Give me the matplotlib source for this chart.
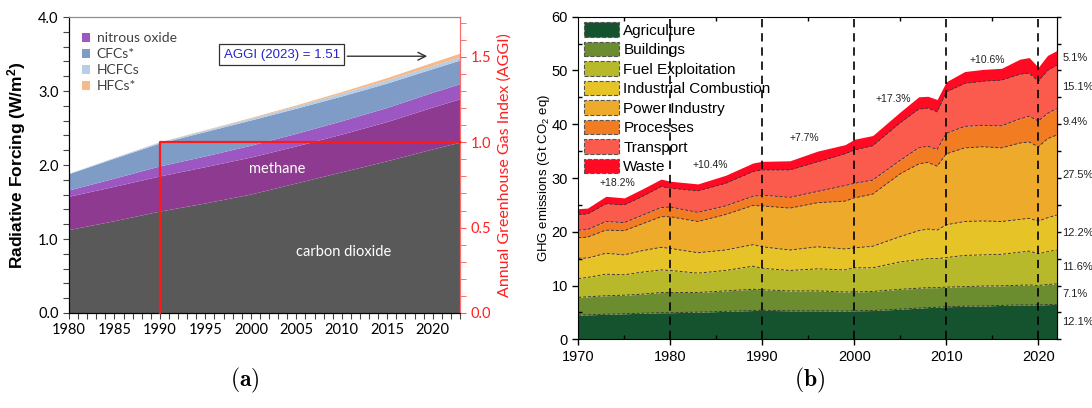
import numpy as np
import matplotlib
matplotlib.use('Agg')
import matplotlib.pyplot as plt
from matplotlib.patches import Patch
from matplotlib.ticker import MultipleLocator, FormatStrFormatter, NullFormatter

plt.rcParams['mathtext.fontset'] = 'cm'

# ---------------- (a) radiative forcing, W/m2 ----------------
aggi_years = [1980, 1985, 1990, 1995, 2000, 2005, 2010, 2015, 2020, 2023]
co2 = [1.12, 1.24, 1.37, 1.48, 1.60, 1.75, 1.90, 2.05, 2.21, 2.30]
ch4 = [0.45, 0.465, 0.475, 0.49, 0.50, 0.50, 0.51, 0.53, 0.565, 0.586]
n2o = [0.085, 0.11, 0.135, 0.145, 0.16, 0.17, 0.18, 0.19, 0.20, 0.204]
cfcs = [0.22, 0.27, 0.31, 0.33, 0.34, 0.34, 0.335, 0.33, 0.32, 0.32]
hcfcs = [0.005, 0.01, 0.015, 0.02, 0.025, 0.03, 0.038, 0.042, 0.043, 0.043]
hfcs = [0.0, 0.001, 0.002, 0.005, 0.01, 0.015, 0.022, 0.032, 0.043, 0.05]
aggi_names = ['carbon dioxide', 'methane', 'nitrous oxide', 'CFCs*', 'HCFCs', 'HFCs*']
aggi_colors = ['#595959', '#8e3a91', '#9d57c2', '#7e9cc5', '#b7cde6', '#f6b987']

# ---------------- (b) GHG emissions by sector, Gt CO2eq ----------------
years = [1970, 1971, 1973, 1975, 1977, 1979, 1980, 1983, 1986, 1989, 1990, 1993, 1996, 1999,
         2000, 2002, 2005, 2007, 2008, 2009, 2010, 2012, 2014, 2016, 2018, 2019, 2020, 2021, 2022]
agriculture = [4.5, 4.55, 4.65, 4.75, 4.85, 4.95, 4.95, 5.05, 5.2, 5.35, 5.4, 5.3, 5.3, 5.25,
               5.3, 5.35, 5.6, 5.8, 5.9, 5.95, 6.05, 6.15, 6.2, 6.3, 6.4, 6.4, 6.4, 6.45, 6.5]
buildings = [3.3, 3.35, 3.45, 3.45, 3.55, 3.75, 3.75, 3.65, 3.8, 3.95, 3.8, 3.7, 3.7, 3.55,
             3.5, 3.55, 3.7, 3.7, 3.7, 3.65, 3.65, 3.65, 3.7, 3.65, 3.65, 3.7, 3.6, 3.75, 3.8]
fuel = [3.5, 3.6, 4.0, 3.8, 4.1, 4.2, 4.1, 3.6, 3.8, 4.3, 4.0, 3.8, 4.1, 4.1,
        4.5, 4.4, 5.1, 5.3, 5.4, 5.4, 5.5, 5.8, 5.8, 5.85, 6.15, 6.3, 5.9, 6.1, 6.3]
industrial = [3.8, 3.6, 3.9, 3.7, 4.0, 4.2, 4.1, 3.8, 3.8, 4.0, 4.0, 3.8, 4.1, 3.9,
              3.7, 4.0, 4.7, 5.4, 5.5, 5.3, 6.1, 6.3, 6.3, 6.1, 6.1, 6.1, 6.1, 6.3, 6.5]
power = [3.8, 3.9, 4.3, 4.5, 5.0, 5.7, 5.9, 5.8, 6.6, 7.3, 7.6, 7.8, 8.2, 8.9,
         9.3, 9.7, 11.7, 12.4, 12.4, 11.9, 13.2, 13.7, 13.8, 13.7, 14.2, 14.2, 13.8, 14.7, 14.9]
processes = [1.4, 1.4, 1.6, 1.5, 1.6, 1.7, 1.8, 1.7, 1.6, 1.7, 2.0, 2.0, 2.1, 2.9,
             2.7, 2.6, 2.5, 3.0, 3.0, 3.1, 3.8, 4.0, 4.0, 4.1, 4.5, 4.8, 4.8, 4.7, 4.9]
transport = [2.9, 2.9, 3.3, 3.3, 3.5, 3.9, 3.5, 4.0, 4.2, 4.6, 4.7, 5.1, 5.5, 5.9,
             6.2, 6.4, 7.0, 7.2, 7.1, 7.0, 7.7, 8.0, 8.2, 8.5, 8.3, 8.0, 7.4, 8.0, 8.1]
waste = [1.1, 1.1, 1.4, 1.3, 1.4, 1.4, 1.3, 1.3, 1.5, 1.6, 1.6, 1.7, 2.0, 1.7,
         2.0, 1.9, 2.0, 2.3, 2.2, 2.3, 1.9, 2.2, 2.2, 2.2, 2.8, 2.9, 2.6, 2.8, 2.7]
sector_names = ['Agriculture', 'Buildings', 'Fuel Exploitation', 'Industrial Combustion',
                'Power Industry', 'Processes', 'Transport', 'Waste']
sector_colors = ['#14532d', '#6b8c2f', '#b8b82b', '#e6c428', '#eeaa2a', '#f27c22', '#fb5b4c', '#ff0a22']
share_2022 = ['12.1%', '7.1%', '11.6%', '12.2%', '27.5%', '9.4%', '15.1%', '5.1%']
decade_growth = ['+18.2%', '+10.4%', '+7.7%', '+17.3%', '+10.6%']
growth_pos = [(1974.2, 29.1), (1984.3, 32.5), (1994.6, 37.5), (2004.2, 44.7), (2014.4, 51.9)]

fig = plt.figure(figsize=(10.92, 4.08), dpi=100)

# ================= panel (a) =================
ax = fig.add_axes([69/1092, 1-313/408, 391/1092, 296/408])
ax.stackplot(aggi_years, co2, ch4, n2o, cfcs, hcfcs, hfcs, colors=aggi_colors, lw=0)
ax.set_xlim(1980, 2023)
ax.set_ylim(0, 4)
ax.xaxis.set_major_locator(MultipleLocator(5))
ax.xaxis.set_minor_locator(MultipleLocator(1))
ax.yaxis.set_major_locator(MultipleLocator(1))
ax.yaxis.set_minor_locator(MultipleLocator(0.2))
ax.yaxis.set_major_formatter(FormatStrFormatter('%.1f'))
ax.tick_params(which='both', direction='out', length=4, width=0.8, color='#444444',
               labelsize=10.5)
for lab in ax.get_xticklabels() + ax.get_yticklabels():
    lab.set_family('Lato')
for s in ['top', 'right']:
    ax.spines[s].set_color('#8c8c8c')
ax.set_ylabel('Radiative Forcing (W/m$\\mathregular{^2}$)', fontsize=12.5, fontweight='bold',
              family='Liberation Sans')
ax.yaxis.set_label_coords(-0.105, 0.5)

total = np.sum([co2, ch4, n2o, cfcs, hcfcs, hfcs], axis=0)
f1990 = total[aggi_years.index(1990)]

ax2 = ax.twinx()
ax2.set_ylim(0, 4 / f1990)
ax2.yaxis.set_major_locator(MultipleLocator(0.5))
ax2.yaxis.set_minor_locator(MultipleLocator(0.1))
ax2.yaxis.set_major_formatter(FormatStrFormatter('%.1f'))
ax2.tick_params(which='both', direction='out', length=4, color='#ff5a5a',
                labelcolor='#ff2020', labelsize=10.5)
for lab in ax2.get_yticklabels():
    lab.set_family('Lato')
ax2.spines['right'].set_color('#ff6a6a')
ax2.spines['top'].set_color('#8c8c8c')
ax2.set_ylabel('Annual Greenhouse Gas Index (AGGI)', color='#ff2020', fontsize=11.5, family='Lato')
ax2.yaxis.set_label_coords(1.095, 0.5)

# 1990 reference box
ax2.plot([1990, 1990, 2023], [0, 1, 1], color='#ff1a1a', lw=1.6, clip_on=False, zorder=3)

ax.text(2002.9, 1.94, 'methane', color='white', fontsize=10.5, family='Lato', ha='center', va='center')
ax.text(2010.2, 0.82, 'carbon dioxide', color='white', fontsize=10.5, family='Lato', ha='center', va='center')
ax.text(2003.4, 3.49, 'AGGI (2023) = 1.51', color='#2424c8', fontsize=9.5, family='Liberation Sans',
        ha='center', va='center', bbox=dict(boxstyle='square,pad=0.35', fc='white', ec='#333333', lw=0.9))
ax.annotate('', xy=(2019.7, 3.47), xytext=(2010.3, 3.47),
            arrowprops=dict(arrowstyle='->', color='#333333', lw=1.0, mutation_scale=14))

handles = [Patch(facecolor=c, edgecolor='none') for c in aggi_colors[2:]]
leg = ax.legend(handles, aggi_names[2:], loc='upper left', bbox_to_anchor=(0.0, 0.99), frameon=False,
                handlelength=0.6, handleheight=0.6, handletextpad=0.5, labelspacing=0.28,
                prop={'family': 'Lato', 'size': 10})
for t in leg.get_texts():
    t.set_color('#404040')

fig.text(245/1092, 1-380/408, r'$\mathbf{(a)}$', fontsize=17, ha='center', va='center')

# ================= panel (b) =================
bx = fig.add_axes([578.3/1092, 1-339.3/408, 478.4/1092, 322.6/408])
layers = [agriculture, buildings, fuel, industrial, power, processes, transport, waste]
tops = np.cumsum(layers, axis=0)
base = np.zeros(len(years))
for i, top in enumerate(tops):
    bx.fill_between(years, base, top, color=sector_colors[i], lw=0)
    if i < len(tops) - 1:
        bx.plot(years, top, ls=(0, (3, 2)), color='#3a3a3a', lw=0.7)
    base = top

for yr in [1980, 1990, 2000, 2010, 2020]:
    bx.axvline(yr, color='black', ls=(0, (5, 3.5)), lw=1.2, zorder=5)

bx.set_xlim(1970, 2022)
bx.set_ylim(0, 60)
bx.xaxis.set_major_locator(MultipleLocator(10))
bx.xaxis.set_minor_locator(MultipleLocator(5))
bx.yaxis.set_major_locator(MultipleLocator(10))
bx.yaxis.set_minor_locator(MultipleLocator(5))
bx.tick_params(which='major', direction='out', length=4, width=1, labelsize=10.5)
bx.tick_params(which='minor', direction='in', length=3, width=1, top=True)
for lab in bx.get_xticklabels() + bx.get_yticklabels():
    lab.set_family('Liberation Sans')
bx.set_ylabel('GHG emissions (Gt CO$\\mathregular{_2}$ eq)', fontsize=9.5, family='Liberation Sans')
bx.yaxis.set_label_coords(-0.055, 0.5)

sec = bx.secondary_yaxis('right')
sec.yaxis.set_major_locator(MultipleLocator(5))
sec.yaxis.set_major_formatter(NullFormatter())
sec.tick_params(direction='out', length=3, width=1)

mids = tops - np.array(layers) / 2
for i, s in enumerate(share_2022):
    bx.text(1.012, mids[i][-1], s, transform=bx.get_yaxis_transform(), fontsize=8,
            family='Liberation Sans', va='center', ha='left', color='#222222')
for txt, (gx, gy) in zip(decade_growth, growth_pos):
    bx.text(gx, gy, txt, fontsize=7.5, family='Liberation Sans', ha='center', va='center', color='#222222')

handles = [Patch(facecolor=c, edgecolor='#555555', ls='--', lw=0.8) for c in sector_colors]
bx.legend(handles, sector_names, loc='upper left', frameon=False, borderaxespad=0, borderpad=0.35,
          handlelength=2.3, handleheight=1.1, handletextpad=0.3, labelspacing=0.26,
          prop={'family': 'Liberation Sans', 'size': 11})

fig.text(810/1092, 1-380/408, r'$\mathbf{(b)}$', fontsize=17, ha='center', va='center')

fig.savefig('out.png', dpi=100)
